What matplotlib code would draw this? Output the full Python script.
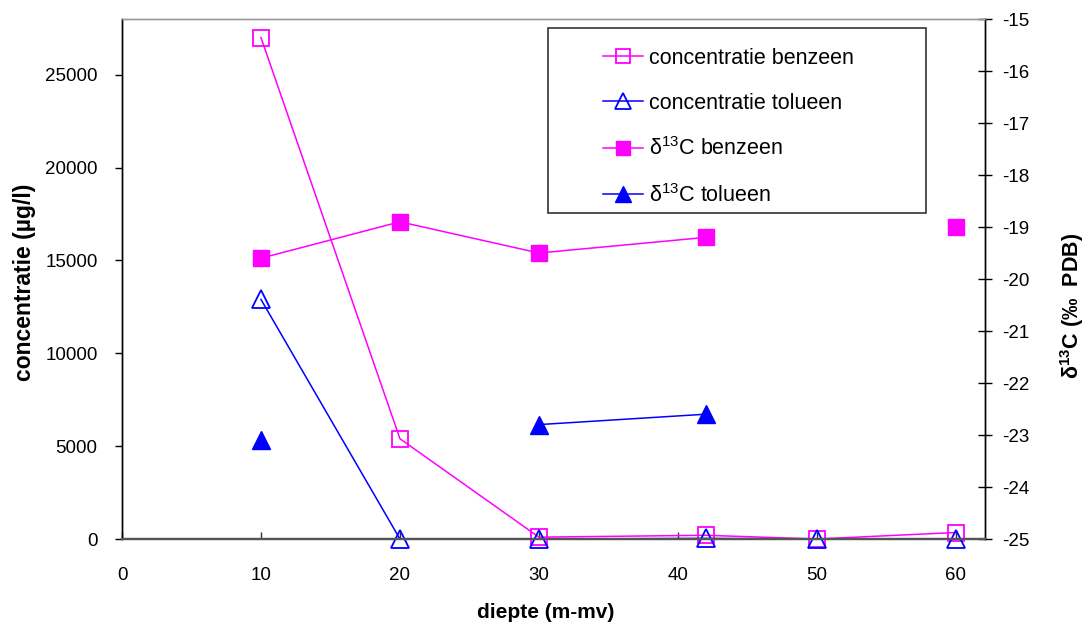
import numpy as np
import matplotlib
matplotlib.use("Agg")
import matplotlib.pyplot as plt
from matplotlib.patches import Rectangle

plt.rcParams['font.family'] = ['Liberation Sans', 'DejaVu Sans']
plt.rcParams['mathtext.fontset'] = 'custom'
plt.rcParams['mathtext.rm'] = 'Liberation Sans'
plt.rcParams['mathtext.bf'] = 'Liberation Sans:bold'
plt.rcParams['mathtext.default'] = 'regular'
plt.rcParams['axes.unicode_minus'] = False

# depth below ground level (m-mv)
depth = [10, 20, 30, 42, 50, 60]
# concentrations (µg/l)
conc_benzeen = [27000, 5400, 100, 200, 0, 350]
conc_tolueen = [12900, 0, 0, 30, 0, 0]
# carbon isotope ratios (‰ PDB); nan = not measured
d13c_benzeen = [-19.6, -18.9, -19.5, -19.2, np.nan, -19.0]
d13c_tolueen = [-23.1, np.nan, -22.8, -22.6, np.nan, np.nan]

x_ticks = [0, 10, 20, 30, 40, 50, 60]
conc_ticks = [0, 5000, 10000, 15000, 20000, 25000]
d13c_ticks = [-25, -24, -23, -22, -21, -20, -19, -18, -17, -16, -15]

MAGENTA = '#FF00FF'
BLUE = '#0000FF'
FS = 13.5

fig = plt.figure(figsize=(10.89, 6.26), dpi=100)
ax = fig.add_axes([122/1089, 1-539/626, (985-122)/1089, (539-19)/626])
ax2 = ax.twinx()

l1, = ax.plot(depth, conc_benzeen, color=MAGENTA, lw=1.1, marker='s', ms=11.5,
              mfc='none', mec=MAGENTA, mew=1.3, clip_on=False, zorder=3,
              label='concentratie benzeen')
l2, = ax.plot(depth, conc_tolueen, color=BLUE, lw=1.1, marker='^', ms=13,
              mfc='none', mec=BLUE, mew=1.3, clip_on=False, zorder=3,
              label='concentratie tolueen')
l3, = ax2.plot(depth, d13c_benzeen, color=MAGENTA, lw=1.1, marker='s', ms=11.5,
               mfc=MAGENTA, mec=MAGENTA, clip_on=False, zorder=3,
               label=r'δ$^{13}$C benzeen')
l4, = ax2.plot(depth, d13c_tolueen, color=BLUE, lw=1.1, marker='^', ms=13,
               mfc=BLUE, mec=BLUE, clip_on=False, zorder=3,
               label=r'δ$^{13}$C tolueen')

ax.set_xlim(0, 62.1)
ax.set_ylim(0, 28000)
ax2.set_ylim(-25, -15)
ax.set_xticks(x_ticks)
ax.set_yticks(conc_ticks)
ax2.set_yticks(d13c_ticks)

ax.tick_params(axis='x', direction='in', length=5, width=1, labelsize=FS, pad=20, color='#333333')
ax.tick_params(axis='y', direction='out', length=5, width=1, labelsize=FS, pad=12.5)
ax2.tick_params(axis='y', direction='inout', length=10, width=1, labelsize=FS, pad=7)

for a in (ax, ax2):
    a.spines['top'].set_color('#999999')
    a.spines['top'].set_linewidth(1.0)
    a.spines['bottom'].set_color('#555555')
    a.spines['bottom'].set_linewidth(1.6)
    a.spines['left'].set_color('black')
    a.spines['right'].set_color('black')
    a.spines['left'].set_linewidth(1.0)
    a.spines['right'].set_linewidth(1.0)

ax.set_xlabel('diepte (m-mv)', fontsize=15, fontweight='bold')
ax.xaxis.set_label_coords((546-122)/863, (539-603)/520)
ax.set_ylabel('concentratie (µg/l)', fontsize=16.5, fontweight='bold')
ax.yaxis.set_label_coords((36-122)/863, (539-282)/520)
ax2.set_ylabel(r'δ$^{\mathbf{13}}$C (‰  PDB)', fontsize=15.5, fontweight='bold',
               rotation=90)
ax2.yaxis.set_label_coords((1058-122)/863, (539-306)/520)

# legend box and entries, drawn on the front axes
ax2.add_patch(Rectangle(((548-122)/863, (539-213)/520), (926-548)/863, (213-28)/520,
                        transform=ax2.transAxes, fill=True, facecolor='white',
                        edgecolor='#333333', lw=1.2, zorder=5, clip_on=False))
leg = ax2.legend(handles=[l1, l2, l3, l4], loc='upper left',
                 bbox_to_anchor=((603-122)/863, (539-48)/520),
                 frameon=False, fontsize=15.5, borderpad=0, borderaxespad=0,
                 handlelength=1.86, handletextpad=0.28, labelspacing=1.1,
                 markerscale=0.9)
leg.set_zorder(6)
ax2.set_zorder(ax.get_zorder() + 1)
ax2.patch.set_visible(False)

fig.savefig('out.png', dpi=100)
